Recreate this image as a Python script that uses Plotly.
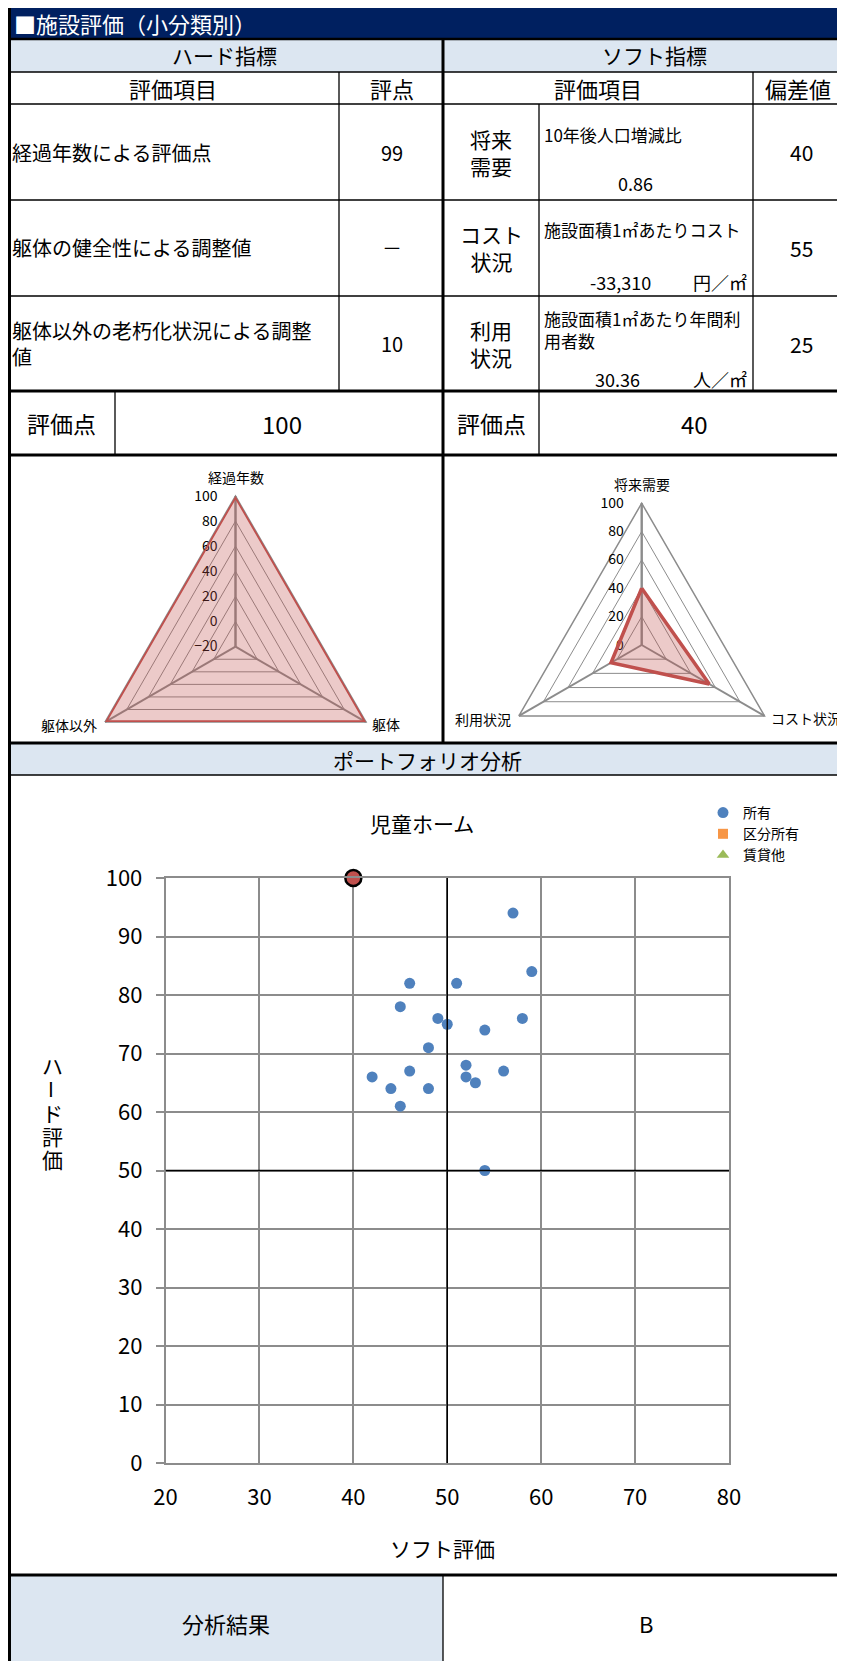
import math
import plotly.graph_objects as go

OFF = 8  # the page body margin, the figure starts 8px in
W, H = 845 - OFF, 1669 - 2 * OFF
FONT = "Noto Sans CJK JP"

# Table contents
titleText = "■施設評価（小分類別）"
hardItems = ["経過年数による評価点", "躯体の健全性による調整値", "躯体以外の老朽化状況による調整<br>値"]
hardScores = ["99", "－", "10"]
softGroups = ["将来<br>需要", "コスト<br>状況", "利用<br>状況"]
softItems = ["10年後人口増減比", "施設面積1㎡あたりコスト", "施設面積1㎡あたり年間利<br>用者数"]
softValues = ["0.86", "-33,310", "30.36"]
softUnits = ["", "円／㎡", "人／㎡"]
softDevs = [40, 55, 25]
hardTotal = 100
softTotal = 40
analysisResult = "B"

# Radar data
hardAxes = ["経過年数", "躯体", "躯体以外"]
hardRadar = [100, 100, 100]
softAxes = ["将来需要", "コスト状況", "利用状況"]
softRadar = [40, 55, 25]

# Portfolio data (other facilities + this one)
portSoft = [57, 59, 46, 51, 45, 49, 50, 58, 54, 48, 52, 46, 56, 42, 52, 53, 44, 48, 45, 54]
portHard = [94, 84, 82, 82, 78, 76, 75, 76, 74, 71, 68, 67, 67, 66, 66, 65, 64, 64, 61, 50]
thisSoft = [40]
thisHard = [100]
softMid = 50
hardMid = 50

NAVY = "#002060"
LIGHT = "#DCE6F1"
GRID = "#8C8C8C"


# page pixel -> paper fraction
def px(x):
    return (x - OFF) / W


def py(y):
    return 1 - (y - OFF) / H


shapes = []
annotations = []


def rect(x0, y0, x1, y1, fill):
    shapes.append(dict(type="rect", xref="paper", yref="paper", x0=px(x0), x1=px(x1), y0=py(y0), y1=py(y1),
                       fillcolor=fill, line=dict(width=0), layer="below"))


def hline(y, x0, x1, w=1.3):
    shapes.append(dict(type="line", xref="paper", yref="paper", x0=px(x0), x1=px(x1), y0=py(y), y1=py(y),
                       line=dict(color="black", width=w)))


def vline(x, y0, y1, w=1.3):
    shapes.append(dict(type="line", xref="paper", yref="paper", x0=px(x), x1=px(x), y0=py(y0), y1=py(y1),
                       line=dict(color="black", width=w)))


def text(x, y, s, size=18, anchor="center", color="black", angle=0, width=None):
    a = dict(xref="paper", yref="paper", x=px(x), y=py(y), text=s, showarrow=False,
             xanchor=anchor, yanchor="middle", align="left" if anchor == "left" else "center",
             textangle=angle, font=dict(family=FONT, size=size, color=color))
    if width:
        a["width"] = width
    annotations.append(a)


# keep every shape inside the figure
LEFT = OFF
RIGHT = OFF + W
BOTTOM = OFF + H

# Backgrounds
rect(LEFT, OFF, RIGHT, 39, NAVY)
rect(LEFT, 39, RIGHT, 72, LIGHT)
rect(LEFT, 743, RIGHT, 775, LIGHT)
rect(LEFT, 1575, 443, BOTTOM, LIGHT)

# Grid lines of the table
hline(39, LEFT, RIGHT, 2.5)
hline(72, LEFT, RIGHT)
hline(104, LEFT, RIGHT)
hline(200, LEFT, RIGHT)
hline(296, LEFT, RIGHT)
hline(391, LEFT, RIGHT, 3)
hline(455, LEFT, RIGHT, 3)
hline(743, LEFT, RIGHT, 3)
hline(775, LEFT, RIGHT)
hline(1575, LEFT, RIGHT, 3)
vline(9.5, OFF, BOTTOM, 3)
vline(443, 39, 743, 3)
vline(443, 1575, BOTTOM, 1.3)
vline(339, 72, 391)
vline(539, 104, 455)
vline(753, 72, 391)
vline(115, 391, 455)

# Header texts
text(12, 23, titleText, 22, anchor="left", color="white")
text(224, 55, "ハード指標", 21)
text(654, 55, "ソフト指標", 21)
text(173, 88, "評価項目", 22)
text(392, 88, "評点", 22)
text(598, 88, "評価項目", 22)
text(798, 88, "偏差値", 22)

# Rows
rowMid = [152, 248, 344]
for i in range(3):
    text(10, rowMid[i], hardItems[i], 20, anchor="left")
    text(392, rowMid[i], hardScores[i], 20)
    text(491, rowMid[i], softGroups[i], 21)
    text(801, rowMid[i], str(softDevs[i]), 21)
text(542, 135, softItems[0], 17, anchor="left")
text(542, 229, softItems[1], 17, anchor="left")
text(542, 329, softItems[2], 17, anchor="left")
valY = [183, 282, 379]
valX = [635, 620, 617]
for i in range(3):
    text(valX[i], valY[i], softValues[i], 18)
    if softUnits[i]:
        text(720, valY[i], softUnits[i], 18)

# Score row
text(61, 423, "評価点", 23)
text(282, 423, str(hardTotal), 24)
text(491, 423, "評価点", 23)
text(694, 423, str(softTotal), 24)

text(428, 760, "ポートフォリオ分析", 21)
text(226, 1623, "分析結果", 22)
text(646, 1623, analysisResult, 22)

# Scatter titles
text(422, 823, "児童ホーム", 21)
text(442, 1548, "ソフト評価", 21)
text(52, 1065, "ハ", 21)
text(52, 1089, "ー", 21, angle=90, width=15)
text(52, 1113, "ド", 21)
text(52, 1136, "評", 21)
text(52, 1159, "価", 21)

fig = go.Figure()


# Radar charts: polar subplot sized so its outer triangle sits at (cx, cy) with radius R
def radarPolar(cx, cy, R, rmin):
    return dict(
        domain=dict(x=[px(cx - R), px(cx + R)], y=[py(cy + R), py(cy - R)]),
        bgcolor="rgba(0,0,0,0)", gridshape="linear",
        radialaxis=dict(range=[rmin, 100], dtick=20, tick0=0, angle=90, tickangle=90, side="counterclockwise",
                        showline=True, linecolor=GRID, linewidth=2, gridcolor=GRID, gridwidth=1,
                        layer="below traces", ticks="outside", ticklen=12, tickcolor="rgba(0,0,0,0)",
                        tickfont=dict(family=FONT, size=14, color="black")),
        angularaxis=dict(rotation=90, direction="clockwise", linecolor=GRID, linewidth=1.5,
                         gridcolor=GRID, gridwidth=2, layer="below traces", showticklabels=False, ticks=""))


# Category labels next to the three corners (top, lower right, lower left)
def radarLabels(cx, cy, R, names):
    c = math.cos(math.radians(30))
    s = math.sin(math.radians(30))
    text(cx, cy - R - 19, names[0], 14)
    text(cx + R * c + 4, cy + R * s + 2, names[1], 14, anchor="left")
    text(cx - R * c - 6, cy + R * s + 3, names[2], 14, anchor="right")


radarLabels(235.5, 646.7, 150.7, hardAxes)
radarLabels(641.7, 645, 141.8, softAxes)

fig.add_trace(go.Scatterpolar(r=hardRadar + hardRadar[:1], theta=hardAxes + hardAxes[:1], fill="toself",
                              fillcolor="rgba(192,80,77,0.3)", line=dict(color="#C0504D", width=3.5),
                              mode="lines", showlegend=False, subplot="polar"))
fig.add_trace(go.Scatterpolar(r=softRadar + softRadar[:1], theta=softAxes + softAxes[:1], fill="toself",
                              fillcolor="rgba(192,80,77,0.3)", line=dict(color="#C0504D", width=3.5),
                              mode="lines", showlegend=False, subplot="polar2"))

# Portfolio scatter
fig.add_trace(go.Scatter(x=portSoft, y=portHard, mode="markers", name="所有",
                         marker=dict(color="#4F81BD", size=11)))
fig.add_trace(go.Scatter(x=[None], y=[None], mode="markers", name="区分所有",
                         marker=dict(color="#F79646", size=10, symbol="square")))
fig.add_trace(go.Scatter(x=[None], y=[None], mode="markers", name="賃貸他",
                         marker=dict(color="#9BBB59", size=11, symbol="triangle-up")))
fig.add_trace(go.Scatter(x=thisSoft, y=thisHard, mode="markers", showlegend=False, cliponaxis=False,
                         marker=dict(color="#C0504D", size=16, line=dict(color="black", width=2.5))))

# Quadrant lines
shapes.append(dict(type="line", xref="x", yref="y", x0=softMid, x1=softMid, y0=0, y1=100,
                   line=dict(color="black", width=1.5)))
shapes.append(dict(type="line", xref="x", yref="y", x0=20, x1=80, y0=hardMid, y1=hardMid,
                   line=dict(color="black", width=1.5)))

fig.update_layout(
    width=W, height=H, margin=dict(l=0, r=0, t=0, b=0, autoexpand=False),
    paper_bgcolor="white", plot_bgcolor="white",
    font=dict(family=FONT, color="black"),
    polar=radarPolar(235.5, 646.7, 150.7, -20),
    polar2=radarPolar(641.7, 645, 141.8, 0),
    xaxis=dict(domain=[px(165.5), px(729)], range=[20, 80], dtick=10, showgrid=True, gridcolor=GRID,
               gridwidth=1.5, showline=True, linecolor=GRID, linewidth=1.5, mirror=True, zeroline=False,
               ticks="", ticklabelstandoff=14, tickfont=dict(family=FONT, size=22, color="black")),
    yaxis=dict(domain=[py(1463), py(878)], range=[0, 100], dtick=10, showgrid=True, gridcolor=GRID,
               gridwidth=1.5, showline=True, linecolor=GRID, linewidth=1.5, mirror=True, zeroline=False,
               ticks="outside", ticklen=8, tickcolor=GRID, tickwidth=1.5, ticklabelstandoff=9,
               tickfont=dict(family=FONT, size=22, color="black")),
    legend=dict(x=px(703), y=py(797), xanchor="left", yanchor="top", bgcolor="rgba(0,0,0,0)",
                font=dict(family=FONT, size=14), tracegroupgap=0),
    shapes=shapes, annotations=annotations,
)

fig.write_html("out.html")
